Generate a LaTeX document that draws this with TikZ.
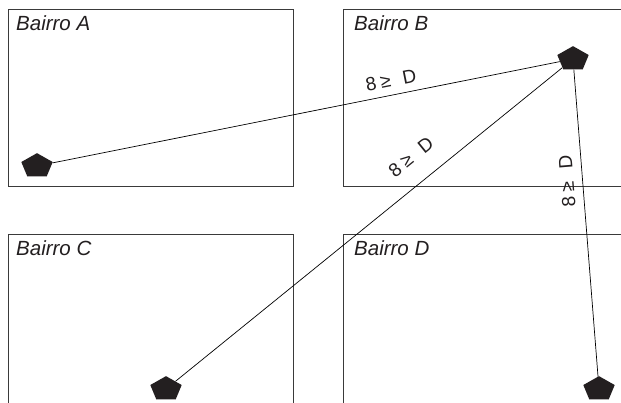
\documentclass[tikz,border=0pt]{standalone}
\usepackage{fontspec}
\setmainfont{Liberation Sans}
\usetikzlibrary{shapes.geometric}
\definecolor{pentcol}{HTML}{231F20}
\definecolor{boxcol}{HTML}{3A3A3A}
\newcommand{\distlabel}{8\hspace{0.22em}≥\hspace{0.65em}D}
\tikzset{
  zone/.style={draw=boxcol, line width=0.9pt},
  zonename/.style={anchor=base west, inner sep=0pt, font=\fontsize{20.5}{24}\selectfont\itshape, text=pentcol},
  pent/.style={regular polygon, regular polygon sides=5, minimum size=33pt, inner sep=0pt,
    fill=pentcol, draw=none, yscale=0.78, transform shape},
  link/.style={draw=black, line width=0.7pt},
  dist/.style={inner sep=0pt, font=\fontsize{19}{22}\selectfont, text=pentcol}
}
\begin{document}
\begin{tikzpicture}[x=1pt, y=-1pt]
  \useasboundingbox (0,0) rectangle (621,403);
  \clip (0,0) rectangle (621,403);
  \fill[white] (0,0) rectangle (621,403);
  % zones
  \draw[zone] (8,9) rectangle (293,186);
  \draw[zone] (343,9) rectangle (630,186);
  \draw[zone] (8,234) rectangle (293,420);
  \draw[zone] (343,234) rectangle (630,420);
  \node[zonename] (nA) at (16,31) {Bairro A};
  \node[zonename] (nB) at (354,31) {Bairro B};
  \node[zonename] (nC) at (16,256) {Bairro C};
  \node[zonename] (nD) at (354,256) {Bairro D};
  % points
  \node[pent] (pA) at (37,166) {};
  \node[pent] (pB) at (573,59) {};
  \node[pent] (pC) at (166,389) {};
  \node[pent] (pD) at (599,389) {};
  % links
  \draw[link] (pA) -- (pB);
  \draw[link] (pB) -- (pC);
  \draw[link] (pB) -- (pD);
  % labels
  \node[dist, rotate=11.3] (lAB) at (391,80) {\distlabel};
  \node[dist, rotate=39] (lBC) at (411,157) {\distlabel};
  \node[dist, rotate=94.6] (lBD) at (567,181) {\distlabel};
\end{tikzpicture}
\end{document}
